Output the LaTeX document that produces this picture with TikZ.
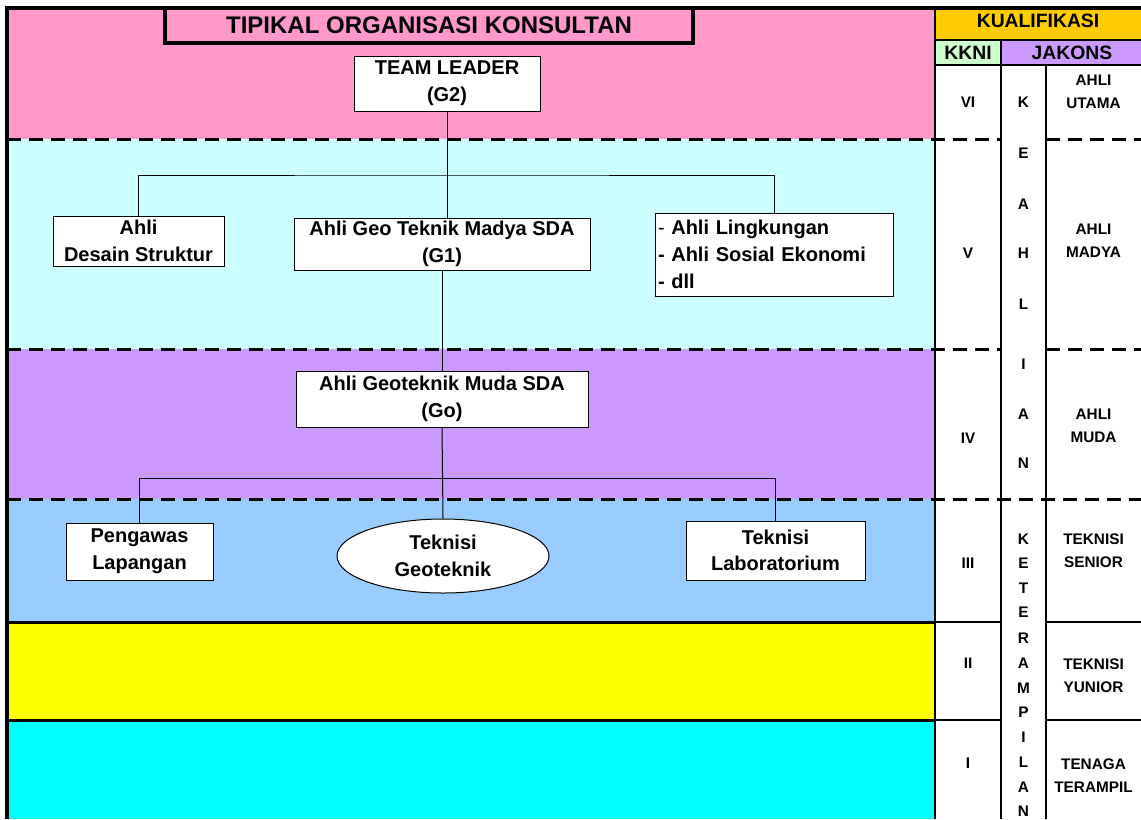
\documentclass[tikz,border=0pt]{standalone}
\usepackage{fontspec}
\setmainfont{Liberation Sans}
\usetikzlibrary{shapes.geometric}
\definecolor{cpink}{HTML}{FF99CC}
\definecolor{clcyan}{HTML}{CCFFFF}
\definecolor{clav}{HTML}{CC99FF}
\definecolor{clblue}{HTML}{99CCFF}
\definecolor{cyel}{HTML}{FFFF00}
\definecolor{ccyan}{HTML}{00FFFF}
\definecolor{chead}{HTML}{FFCC00}
\definecolor{ckkni}{HTML}{CCFFCC}
\tikzset{
  nodefont/.style={font=\fontsize{15}{20}\selectfont\bfseries},
  orgbox/.style={draw, line width=0.75pt, fill=white, align=center, nodefont, inner sep=0pt},
  conn/.style={draw, line width=0.75pt},
  dashline/.style={line width=2.25pt, dash pattern=on 10.5pt off 6pt},
  thickline/.style={line width=2.25pt},
  tabline/.style={line width=1.6pt},
  tabfont/.style={font=\fontsize{11.5}{17.25}\selectfont\bfseries, align=center, inner sep=0pt},
  headfont/.style={font=\fontsize{14.5}{17}\selectfont\bfseries, inner sep=0pt}
}
\begin{document}
\begin{tikzpicture}[x=0.75pt,y=-0.75pt]
\useasboundingbox (0,0) rectangle (1141,819);
\fill[white] (0,0) rectangle (1141,819);
% bands
\fill[cpink] (7,8) rectangle (935,139);
\fill[clcyan] (7,139) rectangle (935,349);
\fill[clav] (7,349) rectangle (935,499);
\fill[clblue] (7,499) rectangle (935,622);
\fill[cyel] (7,622) rectangle (935,720);
\fill[ccyan] (7,720) rectangle (935,819);
% header cells
\fill[chead] (935,8) rectangle (1141,40);
\fill[ckkni] (935,40) rectangle (1001,65);
\fill[clav] (1001,40) rectangle (1141,65);
% dashed level lines
\draw[dashline] (7,139) -- (1001,139);
\draw[dashline] (1046,139) -- (1141,139);
\draw[dashline] (7,349) -- (1001,349);
\draw[dashline] (1046,349) -- (1141,349);
\draw[dashline] (7,499) -- (1141,499);
% solid level lines
\draw[thickline] (7,622) -- (935,622);
\draw[tabline] (935,622) -- (1001,622);
\draw[tabline] (1046,622) -- (1141,622);
\draw[thickline] (7,720) -- (935,720);
\draw[tabline] (935,720) -- (1001,720);
\draw[tabline] (1046,720) -- (1141,720);
% table lines
\draw[tabline] (935,8) -- (935,819);
\draw[tabline] (935,40) -- (1141,40);
\draw[tabline] (935,65) -- (1141,65);
\draw[tabline] (1001,40) -- (1001,819);
\draw[tabline] (1046,65) -- (1046,819);
% frame
\draw[line width=3pt] (7,819) -- (7,8) -- (1141,8);
% title
\node[draw, line width=3pt, fill=cpink, minimum width=396pt, minimum height=26.25pt, inner sep=0pt,
  font=\fontsize{18}{20}\selectfont\bfseries] (title) at (429,25.5) {TIPIKAL ORGANISASI KONSULTAN};
% header text
\node[headfont] (kual) at (1038,21) {KUALIFIKASI};
\node[headfont] (kkni) at (968,53) {KKNI};
\node[headfont] (jakons) at (1072,53) {JAKONS};
% KKNI levels
\node[tabfont] (lv6) at (968,102) {VI};
\node[tabfont] (lv5) at (968,253) {V};
\node[tabfont] (lv4) at (968,438) {IV};
\node[tabfont] (lv3) at (968,563) {III};
\node[tabfont] (lv2) at (968,663) {II};
\node[tabfont] (lv1) at (968,763) {I};
% JAKONS levels
\node[tabfont] (j6) at (1093.5,91.5) {AHLI\\UTAMA};
\node[tabfont] (j5) at (1093.5,240.5) {AHLI\\MADYA};
\node[tabfont] (j4) at (1093.5,425.5) {AHLI\\MUDA};
\node[tabfont] (j3) at (1093.5,550.5) {TEKNISI\\SENIOR};
\node[tabfont] (j2) at (1093.5,675.5) {TEKNISI\\YUNIOR};
\node[tabfont] (j1) at (1093.5,775.5) {TENAGA\\TERAMPIL};
% vertical words
\foreach \ch/\yy [count=\i] in {K/102,E/153,A/204,H/253,L/304,I/364,A/414,N/463}
  \node[tabfont] (ka\i) at (1023.5,\yy) {\ch};
\foreach \ch/\yy [count=\i] in {K/539,E/563,T/588,E/612,R/638,A/663,M/688,P/712,I/737,L/762,A/787,N/811}
  \node[tabfont] (kt\i) at (1023.5,\yy) {\ch};
% org nodes
\node[orgbox, minimum width=139.5pt, minimum height=41.25pt] (tl) at (447,83.5) {TEAM LEADER\\(G2)};
\node[orgbox, minimum width=128.25pt, minimum height=37.5pt] (ads) at (138.5,241) {Ahli\\Desain Struktur};
\node[orgbox, minimum width=222pt, minimum height=39pt] (g1) at (442,244) {Ahli Geo Teknik Madya SDA\\(G1)};
\node[orgbox, minimum height=62.25pt, text width=174pt, inner xsep=2.25pt, align=left] (rb) at (774,254.5)
  {{\mdseries -} Ahli Lingkungan\\- Ahli Sosial Ekonomi\\- dll};
\node[orgbox, minimum width=219pt, minimum height=42pt] (go) at (442,399) {Ahli Geoteknik Muda SDA\\(Go)};
\node[orgbox, minimum width=110.25pt, minimum height=42.75pt] (pl) at (139.5,551.5) {Pengawas\\Lapangan};
\node[orgbox, ellipse, minimum width=159pt, minimum height=55.5pt] (tg) at (443,556) {Teknisi\\Geoteknik};
\node[orgbox, minimum width=134.25pt, minimum height=44.25pt] (tlab) at (775.5,550.5) {Teknisi\\Laboratorium};
% connectors
\coordinate (bar1) at (447,175);
\coordinate (bar2) at (443,478);
\draw[conn] (tl.south) -- (tl.south |- g1.north);
\draw[conn] (ads.north) |- (bar1) -| (rb.north);
\draw[conn] (g1.south) -- (go.north);
\draw[conn] (go.south) -- (tg.north);
\draw[conn] (pl.north) |- (bar2) -| (tlab.north);
\end{tikzpicture}
\end{document}
